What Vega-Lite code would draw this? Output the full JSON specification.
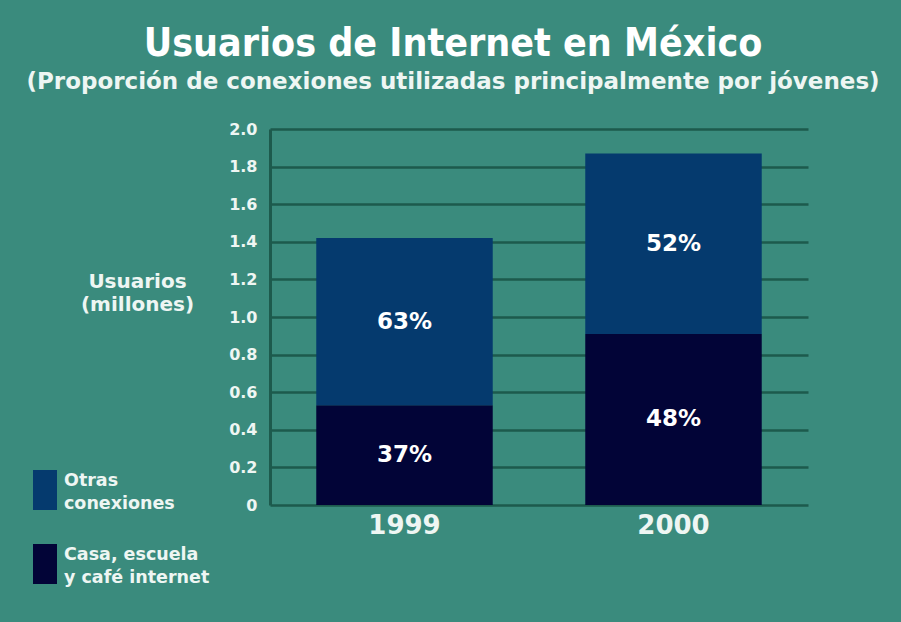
{
  "$schema": "https://vega.github.io/schema/vega-lite/v6.json",
  "width": 538,
  "height": 376,
  "autosize": {"type": "none"},
  "padding": {"left": 270, "top": 129, "right": 93, "bottom": 117},
  "background": "#3a8b7d",
  "title": {
    "text": "Usuarios de Internet en México",
    "subtitle": "(Proporción de conexiones utilizadas principalmente por jóvenes)",
    "anchor": "middle",
    "frame": "group",
    "dx": -86,
    "offset": 27,
    "font": "DejaVu Sans Condensed",
    "fontSize": 39,
    "fontWeight": "bold",
    "color": "#ffffff",
    "subtitleFont": "DejaVu Sans",
    "subtitleFontSize": 23,
    "subtitleFontWeight": "bold",
    "subtitleColor": "#eef6f3",
    "subtitlePadding": 7
  },
  "data": {
    "values": [
      {"anio": "1999", "tipo": "Casa, escuela y café internet", "usuarios": 0.53, "pct": "37%"},
      {"anio": "1999", "tipo": "Otras conexiones", "usuarios": 0.89, "pct": "63%"},
      {"anio": "2000", "tipo": "Casa, escuela y café internet", "usuarios": 0.91, "pct": "48%"},
      {"anio": "2000", "tipo": "Otras conexiones", "usuarios": 0.96, "pct": "52%"}
    ]
  },
  "encoding": {
    "x": {
      "field": "anio",
      "type": "nominal",
      "scale": {"paddingInner": 0.344, "paddingOuter": 0.172},
      "axis": {
        "title": null,
        "labelAngle": 0,
        "labelFont": "DejaVu Sans",
        "labelFontSize": 26,
        "labelFontWeight": "bold",
        "labelColor": "#eef6f3",
        "labelPadding": 7,
        "domain": false,
        "ticks": false
      }
    },
    "y": {
      "field": "usuarios",
      "type": "quantitative",
      "aggregate": "sum",
      "stack": "zero",
      "scale": {"domain": [0, 2]},
      "axis": {
        "title": ["Usuarios", "(millones)"],
        "titleAngle": 0,
        "titleAlign": "center",
        "titleBaseline": "top",
        "titleX": -133,
        "titleY": 142,
        "titleFont": "DejaVu Sans",
        "titleFontSize": 20,
        "titleFontWeight": "bold",
        "titleColor": "#eef6f3",
        "titleLineHeight": 23,
        "values": [0, 0.2, 0.4, 0.6, 0.8, 1.0, 1.2, 1.4, 1.6, 1.8, 2.0],
        "labelExpr": "datum.value == 0 ? '0' : format(datum.value, '.1f')",
        "labelFont": "DejaVu Sans",
        "labelFontSize": 16,
        "labelFontWeight": "bold",
        "labelColor": "#eef6f3",
        "labelPadding": 13,
        "ticks": false,
        "domainColor": "#1d5a4d",
        "domainWidth": 3,
        "grid": true,
        "gridColor": "#1d5a4d",
        "gridWidth": 2.5,
        "gridOpacity": 1
      }
    }
  },
  "layer": [
    {
      "mark": {"type": "bar"},
      "encoding": {
        "color": {
          "field": "tipo",
          "type": "nominal",
          "scale": {
            "domain": ["Otras conexiones", "Casa, escuela y café internet"],
            "range": ["#053a6e", "#020437"]
          },
          "legend": {
            "title": null,
            "orient": "none",
            "legendX": -245,
            "legendY": 341,
            "symbolType": "M-0.6,-1H0.6V1H-0.6Z",
            "symbolSize": 1600,
            "symbolOpacity": 1,
            "symbolStrokeWidth": 0,
            "rowPadding": 31,
            "labelOffset": -1,
            "labelFont": "DejaVu Sans",
            "labelFontSize": 17.5,
            "labelFontWeight": "bold",
            "labelColor": "#eef6f3",
            "labelLimit": 220,
            "labelExpr": "datum.label == 'Otras conexiones' ? ['Otras', 'conexiones'] : ['Casa, escuela', 'y café internet']",
            "encode": {
              "labels": {"update": {"lineHeight": {"value": 23}, "dy": {"value": -9}}}
            }
          }
        },
        "order": {"field": "tipo", "sort": "ascending"}
      }
    },
    {
      "mark": {
        "type": "text",
        "font": "DejaVu Sans",
        "fontSize": 23,
        "fontWeight": "bold",
        "color": "#ffffff",
        "baseline": "middle"
      },
      "encoding": {
        "y": {
          "field": "usuarios",
          "type": "quantitative",
          "aggregate": "sum",
          "stack": "zero",
          "bandPosition": 0.5
        },
        "text": {"field": "pct", "type": "nominal"},
        "detail": {"field": "tipo", "type": "nominal"},
        "order": {"field": "tipo", "sort": "ascending"}
      }
    }
  ],
  "config": {"view": {"stroke": null}}
}
